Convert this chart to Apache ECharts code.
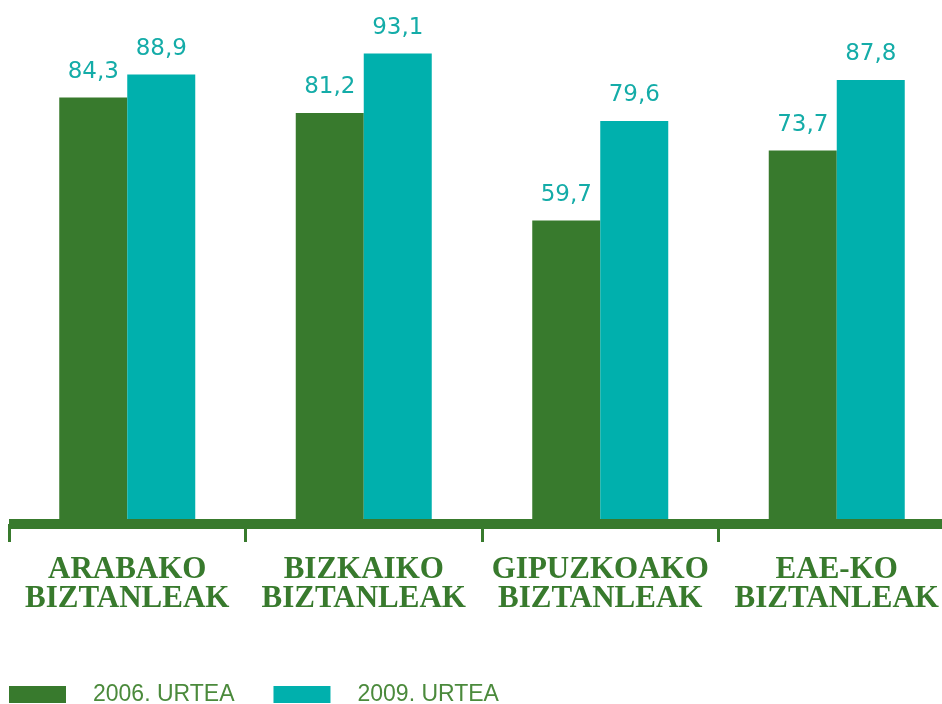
<!DOCTYPE html>
<html>
<head>
<meta charset="utf-8">
<script src="https://cdn.jsdelivr.net/npm/echarts@6/dist/echarts.min.js"></script>
<style>
  html, body { margin: 0; padding: 0; background: #fff; }
  #chart { width: 942px; height: 704px; }
</style>
</head>
<body>
<div id="chart"></div>
<script>
var categories = ['ARABAKO\nBIZTANLEAK', 'BIZKAIKO\nBIZTANLEAK', 'GIPUZKOAKO\nBIZTANLEAK', 'EAE-KO\nBIZTANLEAK'];
var seriesNames = ['2006. URTEA', '2009. URTEA'];
var values2006 = [84.3, 81.2, 59.7, 73.7];
var values2009 = [88.9, 93.1, 79.6, 87.8];

var green = '#387a2d';
var teal = '#00b0ad';

var myChart = echarts.init(document.getElementById('chart'));

var valueLabel = {
    show: true,
    position: 'top',
    distance: 14,
    color: '#14aca8',
    fontFamily: 'DejaVu Sans',
    fontSize: 23,
    formatter: function (p) {
        return String(p.value).replace('.', ',');
    }
};

var option = {
    animation: false,
    legend: {
        left: 9,
        top: 683,
        padding: 0,
        itemWidth: 57,
        itemHeight: 17,
        itemGap: 39,
        icon: 'rect',
        textStyle: {
            color: '#4b8a3c',
            fontFamily: 'Liberation Sans',
            fontSize: 23,
            padding: [0, 0, 0, 22]
        },
        data: seriesNames
    },
    grid: {
        left: 9,
        width: 946,
        top: 19,
        bottom: 185,
        outerBoundsMode: 'none',
        containLabel: false
    },
    xAxis: {
        type: 'category',
        data: categories,
        offset: 5,
        z: 3,
        axisLine: {
            onZero: false,
            lineStyle: { color: green, width: 10, cap: 'butt' }
        },
        axisTick: {
            show: true,
            interval: 0,
            length: 18,
            lineStyle: { color: green, width: 3 }
        },
        axisLabel: {
            interval: 0,
            margin: 31,
            color: green,
            fontFamily: 'Liberation Serif',
            fontWeight: 'bold',
            fontSize: 31,
            lineHeight: 29
        }
    },
    yAxis: {
        type: 'value',
        min: 0,
        max: 100,
        show: false
    },
    series: [
        {
            name: seriesNames[0],
            type: 'bar',
            barWidth: 68,
            barGap: '0%',
            itemStyle: { color: green },
            label: valueLabel,
            data: values2006
        },
        {
            name: seriesNames[1],
            type: 'bar',
            barWidth: 68,
            barGap: '0%',
            itemStyle: { color: teal },
            label: valueLabel,
            data: values2009
        }
    ]
};

myChart.setOption(option);
window.addEventListener('resize', function () {
    myChart.resize();
});
</script>
</body>
</html>
